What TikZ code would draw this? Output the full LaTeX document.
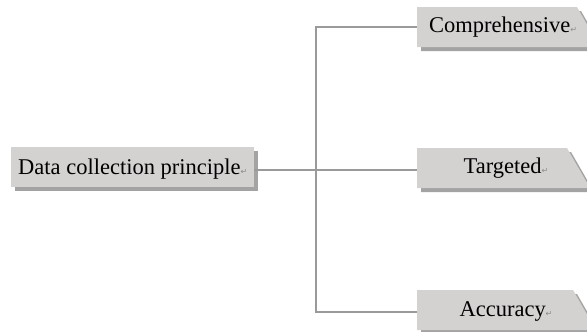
\documentclass[tikz,border=0pt]{standalone}
\usepackage{fontspec}
\setmainfont{Liberation Serif}
\newfontfamily\symfont{DejaVu Sans}
\definecolor{boxfill}{HTML}{D4D1D1}
\definecolor{shadowc}{HTML}{A3A3A3}
\definecolor{linec}{HTML}{9A9A9A}
\definecolor{markc}{HTML}{8A8A8A}
\newcommand{\retmark}{{\symfont\fontsize{8}{8}\selectfont\color{markc}↵}}
\tikzset{
  conn/.style={draw=linec, line width=1.6pt},
  boxshape/.style={fill=boxfill},
  shadowshape/.style={fill=shadowc},
  lbl/.style={font=\fontsize{22.5}{25}\selectfont, inner sep=0pt, anchor=base}
}
\begin{document}
\begin{tikzpicture}[x=1pt,y=-1pt]
\useasboundingbox (0,0) rectangle (587,332);
\clip (0,0) rectangle (587,332);
% left box
\fill[shadowshape] (15,151) rectangle (258,191);
\fill[boxshape] (11,147) rectangle (254,187);
\node[lbl, anchor=base west] (root) at (18,174) {Data collection principle\retmark};
\coordinate (rootE) at (254,170);
% right boxes
\fill[shadowshape] (421,11) -- (581,11) -- (604,51) -- (421,51) -- cycle;
\fill[boxshape] (417,7) -- (577,7) -- (600,47) -- (417,47) -- cycle;
\node[lbl] (comp) at (503,32) {Comprehensive\retmark};
\coordinate (compW) at (417,27);

\fill[shadowshape] (421,152) -- (571,152) -- (594,192) -- (421,192) -- cycle;
\fill[boxshape] (417,148) -- (567,148) -- (590,188) -- (417,188) -- cycle;
\node[lbl] (targ) at (506,173) {Targeted\retmark};
\coordinate (targW) at (417,170);

\fill[shadowshape] (421,294) -- (577,294) -- (600,334) -- (421,334) -- cycle;
\fill[boxshape] (417,290) -- (573,290) -- (596,330) -- (417,330) -- cycle;
\node[lbl] (accu) at (506,316) {Accuracy\retmark};
\coordinate (accuW) at (417,312);
% connectors
\coordinate (bus) at (316,170);
\draw[conn] (rootE) -- (targW);
\draw[conn] (compW) -| (bus);
\draw[conn] (accuW) -| (bus);
\end{tikzpicture}
\end{document}
